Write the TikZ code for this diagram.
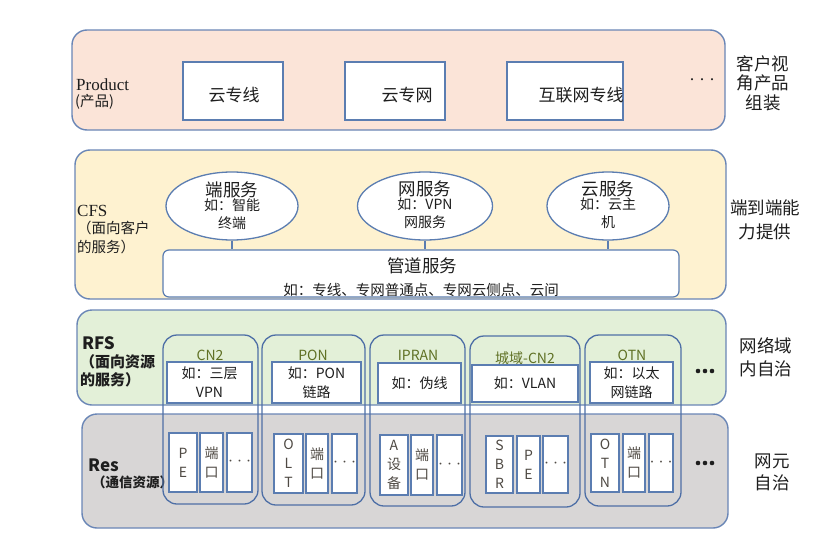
\documentclass[tikz,border=0pt]{standalone}
\usepackage{fontspec}
\setmainfont{Noto Sans CJK SC}
\newfontfamily\serifl{Liberation Serif}
\usetikzlibrary{shapes.geometric,fit}
\definecolor{lay}{HTML}{6A86B6}
\definecolor{box}{HTML}{5B7DB1}
\definecolor{colb}{HTML}{4E6FA6}
\definecolor{pk}{HTML}{FBE4D8}
\definecolor{yl}{HTML}{FEF2D0}
\definecolor{gr}{HTML}{E3F0D8}
\definecolor{gy}{HTML}{D8D6D6}
\definecolor{olive}{HTML}{5F7024}
\definecolor{txt}{HTML}{1E1E1E}
\definecolor{rtxt}{HTML}{4F4A44}
\newcommand\fsz[2]{\fontsize{#1}{#2}\selectfont}
\newcommand\rbox[6]{\node[wbox, fit={(#2,#4)(#3,#5)}] (#1) {};
  \node[restxt] (#1t) at (#1.center) {#6};}
\newcommand\rdots[2]{\node[restxt, font=\fsz{9}{10}] (#1d) at (#1.center) {···};}
\begin{document}
\begin{tikzpicture}[x=1pt,y=-1pt,
  layer/.style={draw=lay, line width=1.4pt, rounded corners=15pt, inner sep=0pt},
  wbox/.style={draw=box, fill=white, line width=1.2pt, inner sep=0pt},
  colbox/.style={draw=colb, line width=1.3pt, rounded corners=14pt, inner sep=0pt},
  ell/.style={ellipse, draw=box, fill=white, line width=1.3pt, minimum width=#1, minimum height=68pt, inner sep=0pt},
  conn/.style={draw=box, line width=2.2pt},
  lefttxt/.style={anchor=west, text=txt, inner sep=0pt, align=left},
  righttxt/.style={text=txt, align=center, inner sep=0pt},
  colt/.style={text=olive, font=\fsz{14}{16}, inner sep=0pt},
  intxt/.style={text=txt, font=\fsz{14}{19}, align=center, inner sep=0pt},
  restxt/.style={text=rtxt, font=\fsz{14}{19}, align=center, inner sep=0pt},
  etitle/.style={text=txt, font=\fsz{17.5}{19}, inner sep=0pt},
  esub/.style={text=txt, font=\fsz{14}{18}, align=center, inner sep=0pt, anchor=north},
  ptxt/.style={text=txt, font=\fsz{17}{19}, inner sep=0pt},
  dot/.style={fill=txt}]
\useasboundingbox (0,0) rectangle (830,538);
\fill[white] (0,0) rectangle (830,538);

% layers
\node[layer, fill=pk, fit={(72,30)(725,130)}] (prod) {};
\node[layer, fill=yl, fit={(75,150)(726,299)}] (cfs) {};
\node[layer, fill=gr, fit={(77,310)(726,405)}] (rfs) {};
\node[layer, fill=gy, fit={(82,414)(728,528)}] (res) {};

% Product
\node[lefttxt, font=\serifl\fsz{17}{18}] (prodl) at (76,85) {Product};
\node[lefttxt, font=\fsz{14.5}{15}] (prodl2) at (75,102) {(产品)};
\node[wbox, minimum width=100pt, minimum height=58pt] (p1) at (233,91) {};
\node[wbox, minimum width=100pt, minimum height=58pt] (p2) at (395,91) {};
\node[wbox, minimum width=116pt, minimum height=58pt] (p3) at (565,91) {};
\node[ptxt] (p1t) at (234,95) {云专线};
\node[ptxt] (p2t) at (407,95) {云专网};
\node[ptxt] (p3t) at (581,95) {互联网专线};
\node[text=txt, font=\fsz{10}{12}, inner sep=0pt] (pdots) at (702,81) {···};
\node[righttxt, font=\fsz{17.5}{19.5}] (prodr) at (763,83) {客户视\\角产品\\组装};

% CFS
\node[lefttxt, font=\serifl\fsz{17}{19}] (cfsl) at (77,211) {CFS};
\node[lefttxt, font=\fsz{14.5}{19}] (cfsl2) at (77,237) {（面向客户\\的服务）};
\node[ell=132pt] (e1) at (232,206) {};
\node[ell=135pt] (e2) at (425,206) {};
\node[ell=122pt] (e3) at (608,206) {};
\node[etitle] (e1t) at (232,190) {端服务};
\node[esub] (e1s) at (232,198) {如：智能\\终端};
\node[etitle] (e2t) at (425,189) {网服务};
\node[esub] (e2s) at (425,198) {如：VPN\\网服务};
\node[etitle] (e3t) at (608,189) {云服务};
\node[esub] (e3s) at (608,198) {如：云主\\机};
\node[wbox, rounded corners=6pt, fit={(163,250)(679,297)}] (pipe) {};
\node[text=txt, font=\fsz{17.5}{19}, inner sep=0pt] (pipet) at (422,266) {管道服务};
\node[text=txt, font=\fsz{14.5}{16}, inner sep=0pt] (pipes) at (421,290) {如：专线、专网普通点、专网云侧点、云间};
\draw[conn] (e1.south) -- (e1.south |- pipe.north);
\draw[conn] (e2.south) -- (e2.south |- pipe.north);
\draw[conn] (e3.south) -- (e3.south |- pipe.north);
\node[righttxt, font=\fsz{17.5}{24}] (cfsr) at (765,220) {端到端能\\力提供};

% RFS
\node[lefttxt, font=\bfseries\fsz{17}{19}] (rfsl) at (82,343) {RFS};
\node[lefttxt, font=\bfseries\fsz{15}{18}] (rfsl2) at (80,371) {（面向资源\\的服务）};
\node[righttxt, font=\fsz{17.5}{23}] (rfsr) at (766,357) {网络域\\内自治};
\fill[dot] (698,371) circle (2.3pt) (705,371) circle (2.3pt) (712,371) circle (2.3pt);

% Res
\node[lefttxt, font=\bfseries\fsz{17}{19}] (resl) at (88,465) {Res};
\node[lefttxt, font=\bfseries\fsz{13.5}{15}] (resl2) at (92,482) {（通信资源）};
\node[righttxt, font=\fsz{17.5}{22}] (resr) at (772,472) {网元\\自治};
\fill[dot] (698,463) circle (2.3pt) (705,463) circle (2.3pt) (712,463) circle (2.3pt);

% columns
\node[colbox, fit={(163,335)(258,504)}] (c1) {};
\node[colbox, fit={(262,335)(365,505)}] (c2) {};
\node[colbox, fit={(370,335)(465,506)}] (c3) {};
\node[colbox, fit={(470,336)(580,507)}] (c4) {};
\node[colbox, fit={(585,335)(681,506)}] (c5) {};
\node[colt] (c1t) at (210,355) {CN2};
\node[colt] (c2t) at (313,355) {PON};
\node[colt] (c3t) at (418,355) {IPRAN};
\node[colt] (c4t) at (525,358) {城域-CN2};
\node[colt] (c5t) at (632,355) {OTN};

% RFS inner boxes
\node[wbox, minimum width=85pt, minimum height=41pt] (f1) at (209.5,382.5) {};
\node[wbox, minimum width=89pt, minimum height=41pt] (f2) at (316.5,382.5) {};
\node[wbox, minimum width=83pt, minimum height=40pt] (f3) at (419.5,383) {};
\node[wbox, minimum width=106pt, minimum height=37pt] (f4) at (525,383.5) {};
\node[wbox, minimum width=83pt, minimum height=41pt] (f5) at (631.5,382.5) {};
\node[intxt] (f1t) at (f1.center) {如：三层\\VPN};
\node[intxt] (f2t) at (f2.center) {如：PON\\链路};
\node[intxt] (f3t) at (f3.center) {如：伪线};
\node[intxt] (f4t) at (f4.center) {如：VLAN};
\node[intxt] (f5t) at (f5.center) {如：以太\\网链路};

% Res inner boxes
\rbox{r11}{169}{197}{433}{492}{P\\E}
\rbox{r12}{200}{223}{433}{492}{端\\口}
\rbox{r13}{227}{252}{433}{492}{}
\rdots{r13}{}
\rbox{r21}{274}{303}{434}{493}{O\\L\\T}
\rbox{r22}{306}{328}{434}{493}{端\\口}
\rbox{r23}{332}{357}{434}{493}{}
\rdots{r23}{}
\rbox{r31}{380}{408}{435}{495}{A\\设\\备}
\rbox{r32}{411}{433}{435}{495}{端\\口}
\rbox{r33}{437}{462}{435}{495}{}
\rdots{r33}{}
\rbox{r41}{486}{513}{436}{493}{S\\B\\R}
\rbox{r42}{517}{540}{436}{493}{P\\E}
\rbox{r43}{543}{568}{436}{493}{}
\rdots{r43}{}
\rbox{r51}{591}{619}{434}{492}{O\\T\\N}
\rbox{r52}{623}{645}{434}{492}{端\\口}
\rbox{r53}{649}{673}{434}{492}{}
\rdots{r53}{}
\end{tikzpicture}
\end{document}
